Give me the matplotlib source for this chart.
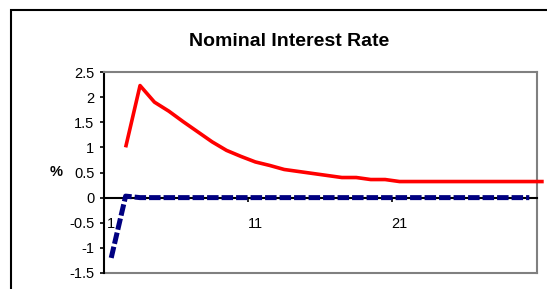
import matplotlib
matplotlib.use("Agg")
import matplotlib.pyplot as plt
from matplotlib.patches import Rectangle
from matplotlib.ticker import FixedLocator, NullFormatter, FixedFormatter

plt.rcParams['font.family'] = ['Liberation Sans', 'DejaVu Sans']

# data
periods = list(range(1, 31))
blue_vals = [-1.2, 0.03] + [0.0] * 28
red_periods = list(range(2, 32))
red_vals = [1.0, 2.23, 1.9, 1.72, 1.51, 1.31, 1.11, 0.94, 0.82, 0.71,
            0.64, 0.56, 0.52, 0.48, 0.44, 0.40, 0.40, 0.36, 0.36, 0.32,
            0.32, 0.32, 0.32, 0.32, 0.32, 0.32, 0.32, 0.32, 0.32, 0.32]
yticks = [-1.5, -1, -0.5, 0, 0.5, 1, 1.5, 2, 2.5]
xlabels = ['1', '11', '21']

W, H = 547, 289
fig = plt.figure(figsize=(W / 100, H / 100), dpi=100)
fig.patches.append(Rectangle((10.5 / W, -0.1), 1.2, 1 - 10.5 / H + 0.1,
                             transform=fig.transFigure, fill=False,
                             edgecolor='black', lw=1.5))

ax = fig.add_axes([104 / W, 1 - 273 / H, 432.5 / W, 201 / H])
ax.plot(red_periods, red_vals, color='#ff0000', lw=2.6, clip_on=False,
        solid_capstyle='butt', zorder=3)
ax.plot(periods, blue_vals, color='#000080', lw=3.6, dashes=(2.3, 0.6),
        dash_capstyle='butt', zorder=4)

ax.set_xlim(0.5, 30.5)
ax.set_ylim(-1.5, 2.5)

for s in ['top', 'right']:
    ax.spines[s].set_color('#808080')
    ax.spines[s].set_linewidth(1.5)
ax.spines['left'].set_linewidth(1.5)
ax.spines['bottom'].set_position(('data', 0))
ax.spines['bottom'].set_linewidth(1.5)
ax.plot([0, 1], [0, 0], transform=ax.transAxes, color='#808080', lw=1.5,
        clip_on=False)

ax.set_yticks(yticks)
ax.set_yticklabels(['-1.5', '-1', '-0.5', '0', '0.5', '1', '1.5', '2', '2.5'])
ax.tick_params(axis='y', length=3, width=1.2, pad=4, labelsize=10.5)

ax.xaxis.set_major_locator(FixedLocator([0.5, 10.5, 20.5, 30.5]))
ax.xaxis.set_major_formatter(NullFormatter())
ax.xaxis.set_minor_locator(FixedLocator([1, 11, 21]))
ax.xaxis.set_minor_formatter(FixedFormatter(xlabels))
ax.tick_params(axis='x', which='major', length=3, width=1.2, direction='out')
ax.tick_params(axis='x', which='minor', length=0, pad=14, labelsize=10.5)

ax.set_ylabel('%', rotation=0, fontsize=10.5, fontweight='bold',
              ha='center', va='center')
ax.yaxis.set_label_coords(-48 / 432.5, 0.5)

fig.text(289 / W, 1 - 42 / H, 'Nominal Interest Rate', ha='center',
         va='center', fontsize=14, fontweight='bold')

fig.savefig('out.png', dpi=100)
